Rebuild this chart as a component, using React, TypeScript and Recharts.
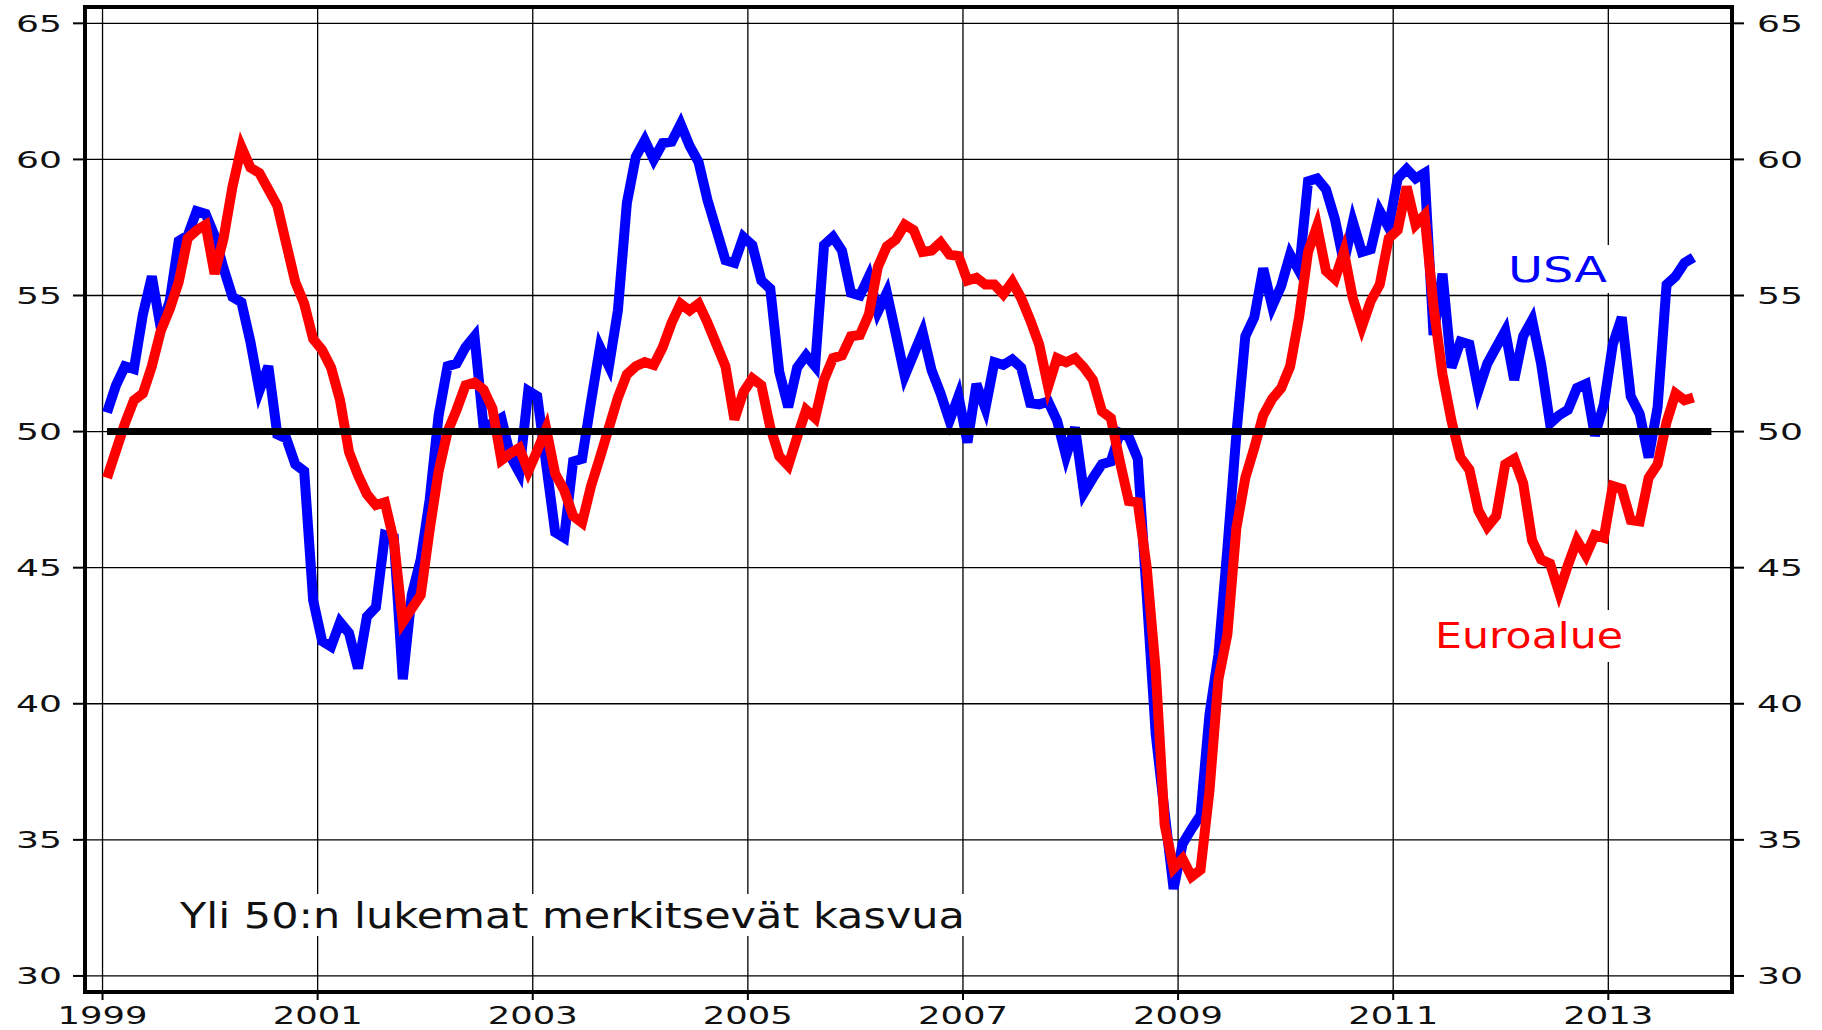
import React from 'react'
import {
  LineChart,
  Line,
  XAxis,
  YAxis,
  CartesianGrid,
  ReferenceArea,
} from 'recharts'

const W = 1822
const H = 1030
const FONT = '"DejaVu Sans", sans-serif'

const START_YEAR = 1999
const YEAR_TICKS = [1999, 2001, 2003, 2005, 2007, 2009, 2011, 2013]
const VALUE_TICKS = [30, 35, 40, 45, 50, 55, 60, 65]
const X_DOMAIN: [number, number] = [1998.837, 2014.15]
const Y_DOMAIN: [number, number] = [29.41, 65.6]

// 50 = kasvun raja, piirretään tammi 1999 - joulu 2013
const GROWTH_LEVEL = 50
const LEVEL_MONTHS = 180

// USA (ISM), kuukausittain 1/1999 - 10/2013
const USA = [
  50.7, 51.7, 52.4, 52.3, 54.3, 55.7, 53.8, 54.8, 57.0, 57.2, 58.1, 58.0,
  57.2, 56.0, 54.95, 54.75, 53.3, 51.5, 52.4, 49.9, 49.75, 48.8, 48.55, 43.8,
  42.3, 42.1, 43.0, 42.6, 41.3, 43.2, 43.55, 46.2, 46.1, 40.9, 44.0, 45.3,
  47.5, 50.6, 52.4, 52.5, 53.1, 53.5, 50.2, 50.3, 50.5, 49.1, 48.5, 51.5,
  51.3, 48.8, 46.3, 46.1, 48.9, 49.0, 51.1, 53.1, 52.4, 54.45, 58.4, 60.1,
  60.7, 60.0, 60.6, 60.65, 61.3, 60.5, 59.9, 58.5, 57.4, 56.3, 56.2, 57.15,
  56.85, 55.55, 55.25, 52.2, 50.9, 52.35, 52.8, 52.4, 56.85, 57.15, 56.65, 55.1,
  55.0, 55.7, 54.4, 55.1, 53.6, 52.05, 52.85, 53.65, 52.25, 51.4, 50.4, 51.3,
  49.6, 51.75, 50.85, 52.55, 52.45, 52.65, 52.35, 51.05, 51.0, 51.1, 50.4, 49.1,
  50.15, 47.75, 48.3, 48.8, 48.9, 49.95, 49.8, 49.0, 44.0, 38.9, 36.0, 33.2,
  34.85, 35.4, 35.9, 39.6, 41.8, 45.7, 49.9, 53.5, 54.2, 56.0, 54.6, 55.35,
  56.5, 55.9, 59.2, 59.3, 58.9, 57.8, 56.2, 57.7, 56.6, 56.7, 58.1, 57.5,
  59.3, 59.65, 59.3, 59.5, 53.55, 55.8, 52.35, 53.3, 53.2, 51.5, 52.5, 53.1,
  53.7, 51.9, 53.5, 54.1, 52.5, 50.3, 50.6, 50.8, 51.6, 51.75, 49.85, 51.0,
  53.2, 54.2, 51.3, 50.65, 49.05, 50.9, 55.4, 55.7, 56.2, 56.4,
]

// Euroalue (PMI), kuukausittain 1/1999 - 10/2013
const EURO = [
  48.3, 49.3, 50.3, 51.15, 51.4, 52.4, 53.7, 54.5, 55.5, 57.1, 57.4, 57.6,
  55.8, 57.1, 59.0, 60.45, 59.7, 59.5, 58.9, 58.3, 56.9, 55.5, 54.7, 53.4,
  53.0, 52.35, 51.15, 49.25, 48.4, 47.7, 47.3, 47.4, 46.0, 43.0, 43.5, 44.0,
  46.4, 48.55, 50.0, 50.8, 51.7, 51.8, 51.55, 50.85, 48.95, 49.2, 49.4, 48.55,
  49.3, 50.1, 48.45, 47.85, 46.9, 46.65, 48.0, 49.05, 50.15, 51.25, 52.1, 52.4,
  52.55, 52.45, 53.1, 54.0, 54.7, 54.45, 54.7, 54.0, 53.2, 52.4, 50.45, 51.45,
  51.95, 51.7, 50.15, 49.1, 48.75, 49.8, 50.8, 50.5, 51.9, 52.7, 52.8, 53.5,
  53.55, 54.3, 56.05, 56.8, 57.05, 57.6, 57.4, 56.6, 56.65, 56.95, 56.5, 56.45,
  55.55, 55.65, 55.4, 55.4, 55.05, 55.5, 54.9, 54.1, 53.2, 51.65, 52.7, 52.55,
  52.7, 52.35, 51.9, 50.75, 50.5, 48.9, 47.45, 47.4, 45.0, 41.25, 35.55, 33.95,
  34.3, 33.65, 33.9, 36.8, 40.9, 42.55, 46.45, 48.3, 49.4, 50.6, 51.2, 51.6,
  52.4, 54.2, 56.6, 57.55, 55.9, 55.6, 56.6, 54.9, 53.85, 54.8, 55.4, 57.1,
  57.4, 59.0, 57.6, 57.95, 54.6, 52.1, 50.4, 49.05, 48.6, 47.1, 46.5, 46.9,
  48.8, 49.0, 48.1, 46.0, 45.3, 45.15, 44.1, 45.1, 46.0, 45.45, 46.2, 46.1,
  48.0, 47.9, 46.75, 46.7, 48.3, 48.8, 50.35, 51.4, 51.15, 51.25,
]

const data = Array.from({ length: LEVEL_MONTHS }, (_, i) => ({
  t: START_YEAR + (i + 0.5) / 12,
  usa: USA[i],
  euro: EURO[i],
  level: GROWTH_LEVEL,
}))

const numText = {
  fontFamily: FONT,
  fill: '#111',
  lengthAdjust: 'spacingAndGlyphs' as const,
}

function LeftTick({ y, payload }: any) {
  return (
    <text x={62} y={y + 8.5} textAnchor="end" fontSize={23} textLength={46} {...numText}>
      {payload.value}
    </text>
  )
}

function RightTick({ y, payload }: any) {
  return (
    <text x={1757} y={y + 8.5} textAnchor="start" fontSize={23} textLength={46} {...numText}>
      {payload.value}
    </text>
  )
}

function YearTick({ x, payload }: any) {
  return (
    <text x={x} y={1024} textAnchor="middle" fontSize={24} textLength={90} {...numText}>
      {payload.value}
    </text>
  )
}

export default function App() {
  return (
    <div style={{ position: 'absolute', left: 0, top: 0, width: W, height: H, background: '#fff' }}>
      <LineChart width={W} height={H} data={data} margin={{ top: 7, right: 0, bottom: 0, left: 0 }}>
        <CartesianGrid stroke="#000" strokeWidth={1.3} />
        <XAxis
          dataKey="t"
          type="number"
          domain={X_DOMAIN}
          ticks={YEAR_TICKS}
          interval={0}
          allowDataOverflow
          height={38}
          tickSize={8}
          axisLine={false}
          tickLine={{ stroke: '#000', strokeWidth: 2 }}
          tick={<YearTick />}
        />
        <YAxis
          domain={Y_DOMAIN}
          ticks={VALUE_TICKS}
          interval={0}
          allowDataOverflow
          width={85}
          tickSize={12}
          axisLine={false}
          tickLine={{ stroke: '#000', strokeWidth: 2 }}
          tick={<LeftTick />}
        />
        <YAxis
          yAxisId="right"
          orientation="right"
          domain={Y_DOMAIN}
          ticks={VALUE_TICKS}
          interval={0}
          allowDataOverflow
          width={90}
          tickSize={12}
          axisLine={false}
          tickLine={{ stroke: '#000', strokeWidth: 2 }}
          tick={<RightTick />}
        />
        <Line
          dataKey="usa"
          type="linear"
          stroke="#0000ff"
          strokeWidth={10}
          strokeLinejoin="miter"
          dot={false}
          activeDot={false}
          isAnimationActive={false}
        />
        <Line
          dataKey="euro"
          type="linear"
          stroke="#ff0000"
          strokeWidth={10}
          strokeLinejoin="miter"
          dot={false}
          activeDot={false}
          isAnimationActive={false}
        />
        <Line
          dataKey="level"
          type="linear"
          stroke="#000"
          strokeWidth={7}
          dot={false}
          activeDot={false}
          isAnimationActive={false}
        />
        <ReferenceArea
          x1={X_DOMAIN[0]}
          x2={X_DOMAIN[1]}
          y1={Y_DOMAIN[0]}
          y2={Y_DOMAIN[1]}
          fill="none"
          fillOpacity={0}
          stroke="#000"
          strokeWidth={4}
          ifOverflow="visible"
        />
      </LineChart>

      <svg
        width={W}
        height={H}
        style={{ position: 'absolute', left: 0, top: 0, pointerEvents: 'none' }}
      >
        <rect x={174} y={894} width={796} height={42} fill="#fff" />
        <text
          x={180}
          y={928}
          fontFamily={FONT}
          fontSize={35}
          fill="#111"
          textLength={785}
          lengthAdjust="spacingAndGlyphs"
        >
          Yli 50:n lukemat merkitsevät kasvua
        </text>
        <rect x={1500} y={245} width={116} height={48} fill="#fff" />
        <text
          x={1508}
          y={282}
          fontFamily={FONT}
          fontSize={35}
          fill="#0000ff"
          textLength={99}
          lengthAdjust="spacingAndGlyphs"
        >
          USA
        </text>
        <rect x={1425} y={610} width={207} height={52} fill="#fff" />
        <text
          x={1435}
          y={648}
          fontFamily={FONT}
          fontSize={35}
          fill="#ff0000"
          textLength={188}
          lengthAdjust="spacingAndGlyphs"
        >
          Euroalue
        </text>
      </svg>
    </div>
  )
}
